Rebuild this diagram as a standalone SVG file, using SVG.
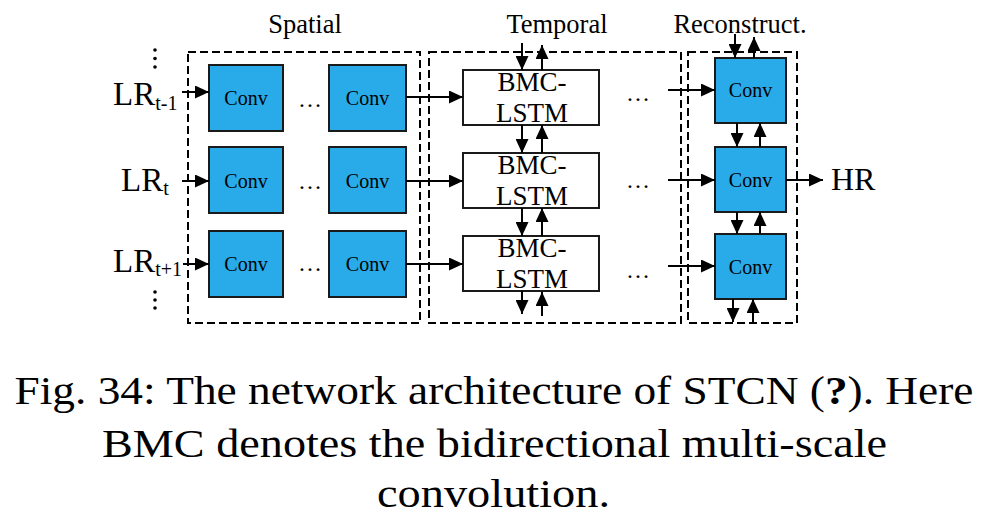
<svg xmlns="http://www.w3.org/2000/svg" width="1005" height="528" viewBox="0 0 1005 528">
<defs>
<marker id="ah" markerUnits="userSpaceOnUse" markerWidth="14" markerHeight="13" refX="14" refY="6.5" orient="auto">
<path d="M0,0 L14,6.5 L0,13 z" fill="#000"/>
</marker>
<style>
.frame{fill:none;stroke:#000;stroke-width:2;stroke-dasharray:8,4}
.conv{fill:#29ABE9;stroke:#1a1a1a;stroke-width:2}
.bmc{fill:#fff;stroke:#1a1a1a;stroke-width:2}
text{fill:#000}
.ct{font-size:20px;text-anchor:middle}
.bt{font-size:27px;text-anchor:middle}
.lab{font-size:26.5px;text-anchor:middle}
.dots{font-size:24px;text-anchor:middle}
.cap{font-size:40px;text-anchor:middle}
.c{fill:none;stroke:#000;stroke-width:2;marker-end:url(#ah)}
</style>
</defs>
<rect width="1005" height="528" fill="#fff"/>
<g font-family="Liberation Serif, Times New Roman, Times, serif">

<g id="frames">
<rect class="frame" x="188" y="52" width="232" height="271"/>
<rect class="frame" x="429" y="52" width="252" height="271"/>
<rect class="frame" x="688" y="52" width="109" height="271"/>
</g>

<g id="labels">
<text class="lab" x="305" y="33">Spatial</text>
<text class="lab" x="557" y="33">Temporal</text>
<text class="lab" x="740" y="33">Reconstruct.</text>
</g>

<g id="inputs">
<g id="lr-t-1"><text x="113" y="105" font-size="33">LR<tspan font-size="20" dy="5">t-1</tspan></text></g>
<g id="lr-t"><text x="121" y="191" font-size="33">LR<tspan font-size="20" dy="4">t</tspan></text></g>
<g id="lr-t+1"><text x="113" y="272" font-size="33">LR<tspan font-size="20" dy="4">t+1</tspan></text></g>
<g id="vdots-top"><circle cx="155" cy="50" r="1.8"/><circle cx="155" cy="58.5" r="1.8"/><circle cx="155" cy="67" r="1.8"/></g>
<g id="vdots-bottom"><circle cx="155" cy="292" r="1.8"/><circle cx="155" cy="300" r="1.8"/><circle cx="155" cy="308" r="1.8"/></g>
</g>

<g id="spatial-r1a"><rect class="conv" x="209" y="65" width="74" height="66"/><text class="ct" x="246" y="105">Conv</text></g>
<g id="spatial-r1b"><rect class="conv" x="329" y="65" width="77" height="66"/><text class="ct" x="367.5" y="105">Conv</text></g>
<g id="spatial-r2a"><rect class="conv" x="209" y="147" width="74" height="66"/><text class="ct" x="246" y="188">Conv</text></g>
<g id="spatial-r2b"><rect class="conv" x="329" y="147" width="77" height="66"/><text class="ct" x="367.5" y="188">Conv</text></g>
<g id="spatial-r3a"><rect class="conv" x="209" y="231" width="74" height="66"/><text class="ct" x="246" y="271">Conv</text></g>
<g id="spatial-r3b"><rect class="conv" x="329" y="231" width="77" height="66"/><text class="ct" x="367.5" y="271">Conv</text></g>
<g id="spatial-dots">
<text class="dots" x="310" y="107">…</text>
<text class="dots" x="310" y="189">…</text>
<text class="dots" x="310" y="271">…</text>
</g>

<g id="bmc-1"><rect class="bmc" x="463" y="70" width="136" height="55"/><text class="bt" x="532" y="91">BMC-</text><text class="bt" x="532" y="122">LSTM</text></g>
<g id="bmc-2"><rect class="bmc" x="463" y="153" width="136" height="55"/><text class="bt" x="532" y="174">BMC-</text><text class="bt" x="532" y="205">LSTM</text></g>
<g id="bmc-3"><rect class="bmc" x="463" y="236" width="136" height="55"/><text class="bt" x="532" y="257">BMC-</text><text class="bt" x="532" y="288">LSTM</text></g>
<g id="temporal-dots">
<text class="dots" x="638" y="101">…</text>
<text class="dots" x="638" y="188">…</text>
<text class="dots" x="638" y="278">…</text>
</g>

<g id="recon-1"><rect class="conv" x="715" y="58" width="71" height="65"/><text class="ct" x="750.5" y="97">Conv</text></g>
<g id="recon-2"><rect class="conv" x="715" y="147" width="71" height="65"/><text class="ct" x="750.5" y="187">Conv</text></g>
<g id="recon-3"><rect class="conv" x="715" y="234" width="71" height="65"/><text class="ct" x="750.5" y="274">Conv</text></g>

<g id="hr"><text x="831" y="190" font-size="32">HR</text></g>

<g id="connectors">
<line class="c" x1="182" y1="92" x2="209" y2="92"/>
<line class="c" x1="182" y1="181" x2="209" y2="181"/>
<line class="c" x1="183" y1="264" x2="209" y2="264"/>

<line class="c" x1="406" y1="97" x2="463" y2="97"/>
<line class="c" x1="406" y1="181" x2="463" y2="181"/>
<line class="c" x1="406" y1="264" x2="463" y2="264"/>

<line class="c" x1="522" y1="43" x2="522" y2="70"/>
<line class="c" x1="542" y1="70" x2="542" y2="45"/>
<line class="c" x1="522" y1="125" x2="522" y2="153"/>
<line class="c" x1="542" y1="153" x2="542" y2="125"/>
<line class="c" x1="522" y1="208" x2="522" y2="236"/>
<line class="c" x1="542" y1="236" x2="542" y2="208"/>
<line class="c" x1="522" y1="291" x2="522" y2="314"/>
<line class="c" x1="542" y1="316" x2="542" y2="292"/>

<line class="c" x1="668" y1="90" x2="715" y2="90"/>
<line class="c" x1="668" y1="180" x2="715" y2="180"/>
<line class="c" x1="668" y1="266" x2="715" y2="266"/>

<line class="c" x1="735" y1="34" x2="735" y2="58"/>
<line class="c" x1="754" y1="58" x2="754" y2="37"/>
<line class="c" x1="737" y1="123" x2="737" y2="147"/>
<line class="c" x1="760" y1="147" x2="760" y2="123"/>
<line class="c" x1="737" y1="212" x2="737" y2="234"/>
<line class="c" x1="760" y1="234" x2="760" y2="212"/>
<line class="c" x1="733" y1="299" x2="733" y2="322"/>
<line class="c" x1="753" y1="322" x2="753" y2="299"/>

<line class="c" x1="786" y1="180" x2="823" y2="180"/>
</g>

<g id="caption">
<text class="cap" x="494" y="404" textLength="959" lengthAdjust="spacingAndGlyphs">Fig. 34: The network architecture of STCN (<tspan font-weight="bold">?</tspan>). Here</text>
<text class="cap" x="494.5" y="457" textLength="785" lengthAdjust="spacingAndGlyphs">BMC denotes the bidirectional multi-scale</text>
<text class="cap" x="493.5" y="507" textLength="233" lengthAdjust="spacingAndGlyphs">convolution.</text>
</g>
</g>
</svg>
